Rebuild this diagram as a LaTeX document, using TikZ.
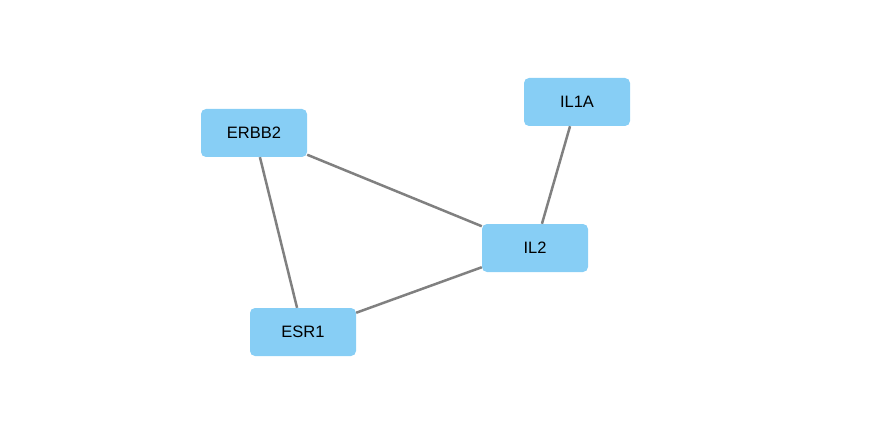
\documentclass[tikz,border=0pt]{standalone}
\usepackage{fontspec}
\setmainfont{Liberation Sans}
\definecolor{nodefill}{HTML}{87CEF5}
\definecolor{edgegray}{HTML}{808080}
\begin{document}
\begin{tikzpicture}[x=1pt,y=-1pt,
  gene/.style={rectangle, rounded corners=5pt, fill=nodefill, minimum width=106pt, minimum height=48pt, inner sep=0pt, font=\fontsize{16.5}{18}\selectfont},
  edge/.style={draw=edgegray, line width=2.5pt}]
\useasboundingbox (0,0) rectangle (873,433);
\node[gene] (ERBB2) at (254,133) {ERBB2};
\node[gene] (IL1A) at (577,102) {IL1A};
\node[gene] (IL2) at (535,248) {IL2};
\node[gene] (ESR1) at (303,332) {ESR1};
\draw[edge] (ERBB2) -- (IL2);
\draw[edge] (ERBB2) -- (ESR1);
\draw[edge] (ESR1) -- (IL2);
\draw[edge] (IL1A) -- (IL2);
\end{tikzpicture}
\end{document}
